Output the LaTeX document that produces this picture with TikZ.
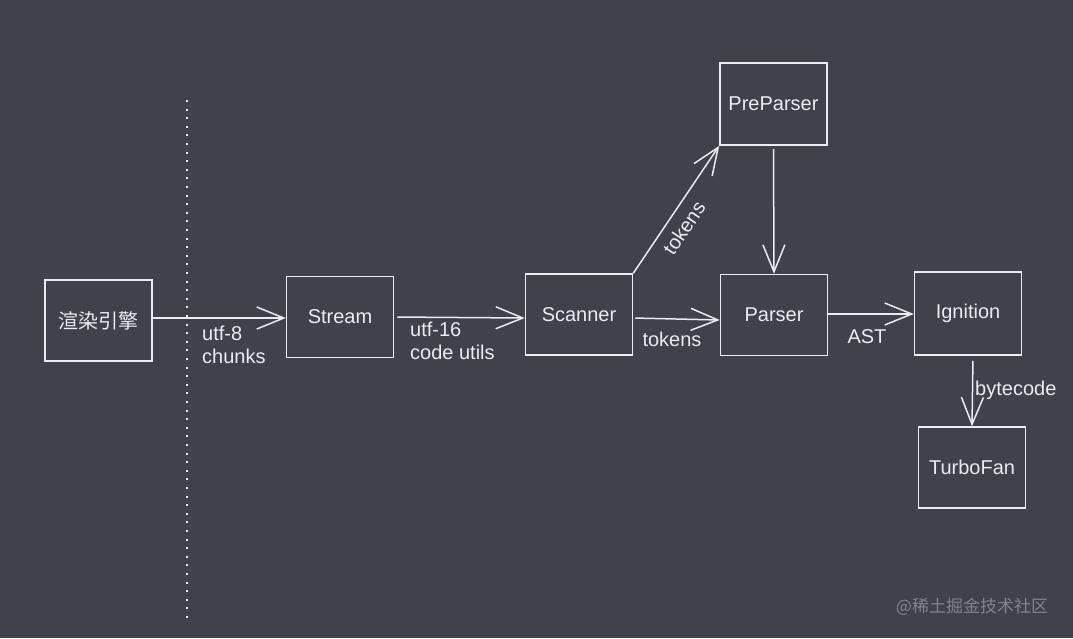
\documentclass[tikz,border=0pt]{standalone}
\usepackage{fontspec}
\setmainfont{Liberation Sans}
\newfontfamily\cjk{Noto Sans CJK SC}
\usetikzlibrary{arrows.meta}
\definecolor{bg}{RGB}{64,65,75}
\definecolor{ink}{RGB}{236,236,238}
\definecolor{wm}{RGB}{130,131,140}
\tikzset{
  box/.style={draw=ink, line width=1.5pt, minimum width=107pt, minimum height=81pt, inner sep=0pt, text=ink, font=\fontsize{20}{24}\selectfont},
  arr/.style={draw=ink, line width=1.5pt, -{Straight Barb[length=27pt,width=22pt,line width=1.5pt]}},
  lbl/.style={text=ink, font=\fontsize{20}{23}\selectfont, inner sep=0pt, align=left},
}
\begin{document}
\begin{tikzpicture}[x=1pt,y=-1pt]
\fill[bg] (0,0) rectangle (1073,638);
\useasboundingbox (0,0) rectangle (1073,638);
% dotted separator
\coordinate (dtop) at (187,100);
\coordinate (dbot) at (187,618);
\draw[color=ink!80, line width=2pt, dash pattern=on 2pt off 6.6pt] (dtop) -- (dbot);
% nodes
\node[box, font=\cjk\fontsize{20}{24}\selectfont] (eng) at (98.5,320.5) {渲染引擎};
\node[box] (stream) at (340,317) {Stream};
\node[box] (scanner) at (579,314.5) {Scanner};
\node[box, minimum height=82pt] (pre) at (773.5,104) {PreParser};
\node[box] (parser) at (774,315) {Parser};
\node[box, minimum height=83pt] (ign) at (968,313.5) {Ignition};
\node[box] (turbo) at (972,467.5) {TurboFan};
% connectors
\draw[arr] (eng.east |- 0,318) -- (stream.west |- 0,318);
\draw[arr, shorten <=3pt] (stream.east) -- (scanner.west |- 0,318);
\draw[arr, shorten <=2pt] (scanner.east |- 0,318) -- (parser.west |- 0,320);
\draw[arr] (scanner.north east) -- (pre.south west);
\draw[arr, shorten <=3pt] (pre.south) -- (parser.north);
\draw[arr] (parser.east |- 0,314) -- (ign.west |- 0,314);
\draw[arr, shorten <=5pt] (ign.south -| 973,0) -- (turbo.north);
% labels
\node[lbl, anchor=west] (l1) at (202,345) {utf-8\\chunks};
\node[lbl, anchor=west] (l2) at (410,341) {utf-16\\code utils};
\node[lbl] (l3) at (672,339) {tokens};
\node[lbl, rotate=56] (l4) at (684,228) {tokens};
\node[lbl] (l5) at (867,337) {AST};
\node[lbl, anchor=west] (l6) at (975,390) {bytecode};
\node[text=wm, font=\cjk\fontsize{17}{20}\selectfont, inner sep=0pt] (wmk) at (972,607) {@稀土掘金技术社区};
\end{tikzpicture}
\end{document}
